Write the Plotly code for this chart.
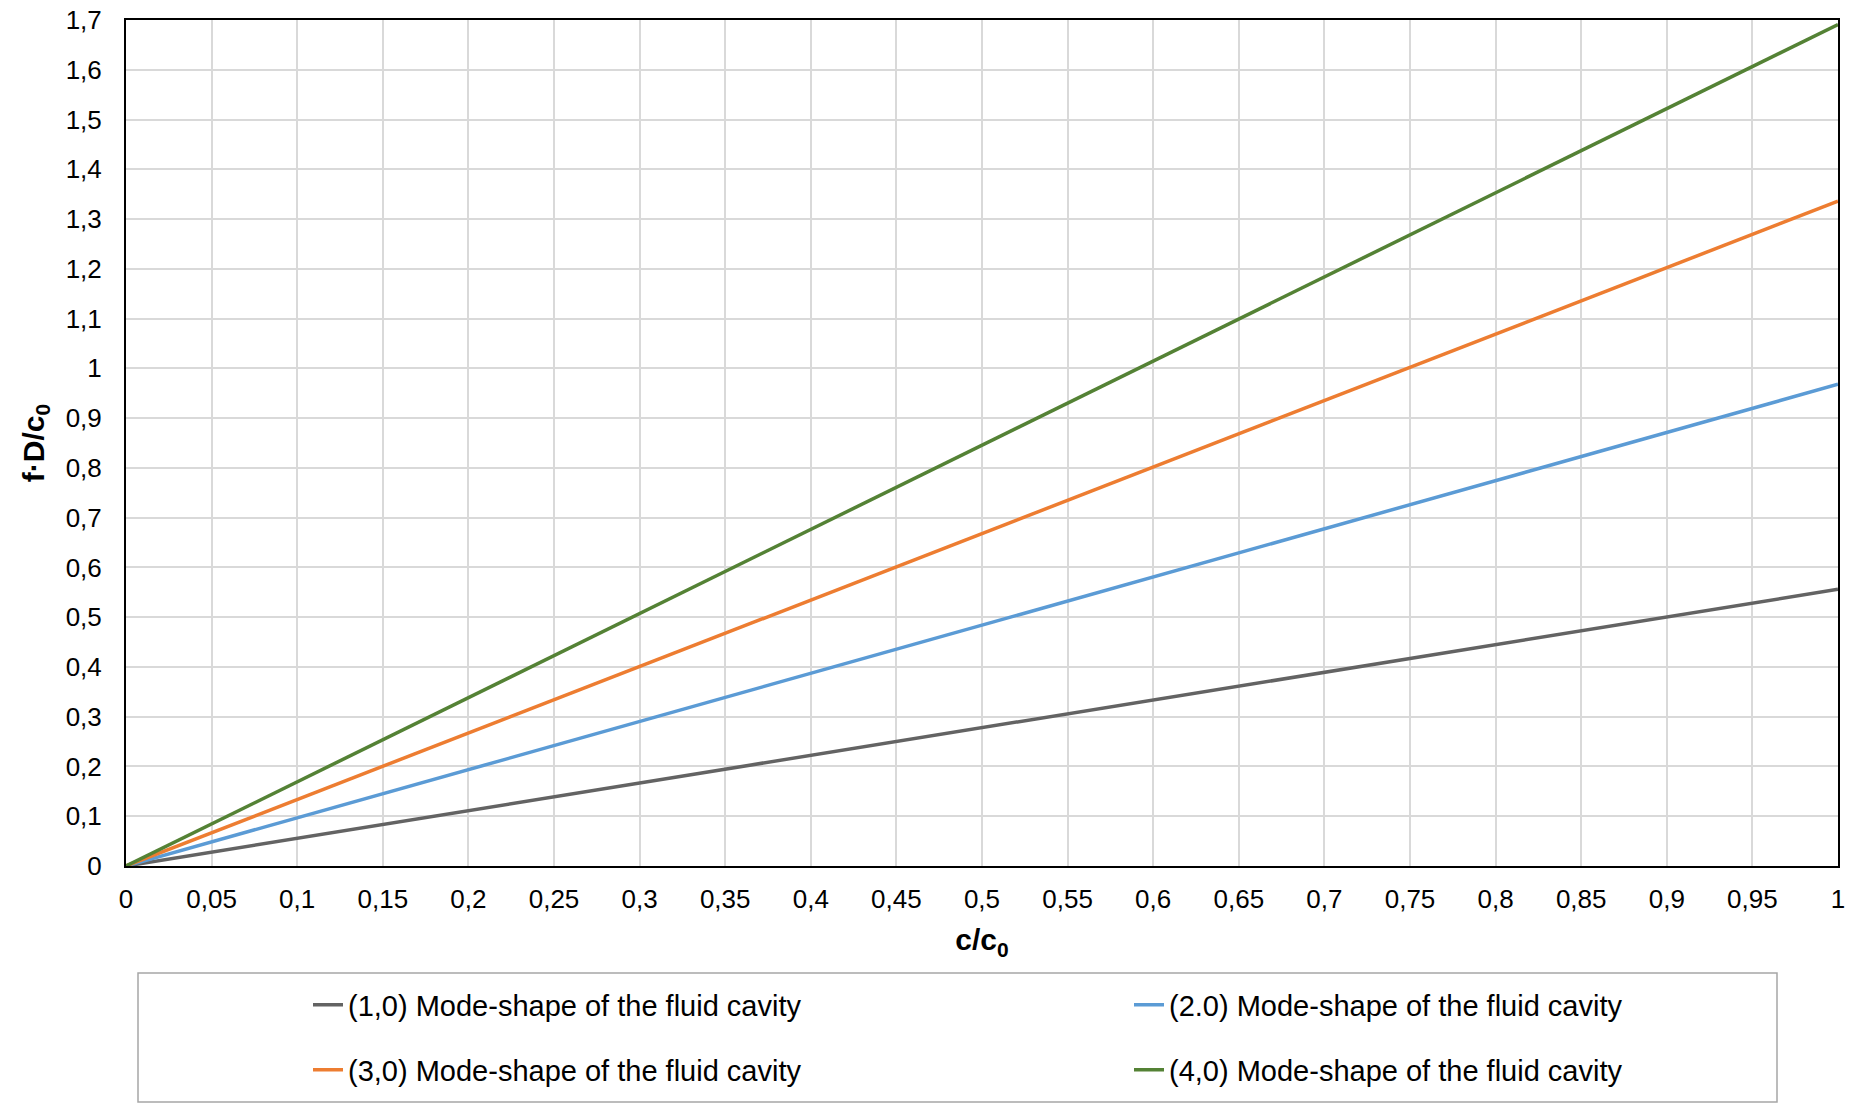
import plotly.graph_objects as go

# ---- data ----
x_vals = [0, 1]
mode_10 = [0, 0.556]
mode_20 = [0, 0.968]
mode_30 = [0, 1.336]
mode_40 = [0, 1.691]

series_names = [
    "(1,0) Mode-shape of the fluid cavity",
    "(2.0) Mode-shape of the fluid cavity",
    "(3,0) Mode-shape of the fluid cavity",
    "(4,0) Mode-shape of the fluid cavity",
]
series_colors = ["#636363", "#5B9BD5", "#ED7D31", "#548235"]

x_ticks = [0, 0.05, 0.1, 0.15, 0.2, 0.25, 0.3, 0.35, 0.4, 0.45, 0.5,
           0.55, 0.6, 0.65, 0.7, 0.75, 0.8, 0.85, 0.9, 0.95, 1]
x_tick_labels = ["0", "0,05", "0,1", "0,15", "0,2", "0,25", "0,3", "0,35", "0,4",
                 "0,45", "0,5", "0,55", "0,6", "0,65", "0,7", "0,75", "0,8",
                 "0,85", "0,9", "0,95", "1"]
y_ticks = [0, 0.1, 0.2, 0.3, 0.4, 0.5, 0.6, 0.7, 0.8, 0.9, 1.0,
           1.1, 1.2, 1.3, 1.4, 1.5, 1.6, 1.7]
y_tick_labels = ["0", "0,1", "0,2", "0,3", "0,4", "0,5", "0,6", "0,7", "0,8",
                 "0,9", "1", "1,1", "1,2", "1,3", "1,4", "1,5", "1,6", "1,7"]
y_max = 1.7

# page body has an 8px margin, so the figure is laid out 8px smaller
W, H = 1852, 1095
L, R, T, B = 118, 22, 12, 237
FONT = "Liberation Sans, Arial, sans-serif"

fig = go.Figure()
series = [mode_10, mode_20, mode_30, mode_40]
legends = ["legend", "legend", "legend2", "legend2"]
for ys, name, col, lg in zip(series, series_names, series_colors, legends):
    fig.add_trace(go.Scatter(x=x_vals, y=ys, mode="lines", name=name,
                             line=dict(color=col, width=3.5), legend=lg))

# legend frame
plot_w = W - L - R
plot_h = H - T - B
plot_bottom = H - B
fig.add_shape(type="rect", xref="paper", yref="paper",
              x0=(130 - L) / plot_w, x1=(1769 - L) / plot_w,
              y0=-(1094 - plot_bottom) / plot_h, y1=-(965 - plot_bottom) / plot_h,
              line=dict(color="#a6a6a6", width=1.5), fillcolor="rgba(0,0,0,0)")

leg_common = dict(orientation="h", xref="container", yref="container",
                  xanchor="left", yanchor="middle", entrywidth=776,
                  entrywidthmode="pixels", traceorder="normal",
                  font=dict(size=29, family=FONT, color="#000000"),
                  bgcolor="rgba(0,0,0,0)", borderwidth=0, itemwidth=30)

fig.update_layout(
    width=W, height=H,
    margin=dict(l=L, r=R, t=T, b=B, autoexpand=False),
    paper_bgcolor="white", plot_bgcolor="white",
    font=dict(family=FONT, color="#000000"),
    legend=dict(**leg_common, x=300 / W, y=1 - 997 / H),
    legend2=dict(**leg_common, x=300 / W, y=1 - 1062 / H),
    xaxis=dict(range=[0, 1.00001], tickvals=x_ticks, ticktext=x_tick_labels,
               tickfont=dict(size=26, family=FONT, color="#000"),
               showgrid=True, gridcolor="#d9d9d9", gridwidth=2,
               showline=True, linecolor="#000000", linewidth=2, mirror=True,
               zeroline=False, ticks="", ticklabelstandoff=9,
               ticklabeloverflow="allow",
               title=dict(text="<b>c/c<sub>0</sub></b>", font=dict(size=30, family=FONT),
                          standoff=16)),
    yaxis=dict(range=[0, y_max + 1e-5], tickvals=y_ticks, ticktext=y_tick_labels,
               tickfont=dict(size=26, family=FONT, color="#000"),
               showgrid=True, gridcolor="#d9d9d9", gridwidth=2,
               showline=True, linecolor="#000000", linewidth=2, mirror=True,
               zeroline=False, ticks="", ticklabelstandoff=17,
               ticklabeloverflow="allow",
               title=dict(text="<b>f·D/c<sub>0</sub></b>", font=dict(size=30, family=FONT),
                          standoff=12)),
)

fig.write_html("out.html")
